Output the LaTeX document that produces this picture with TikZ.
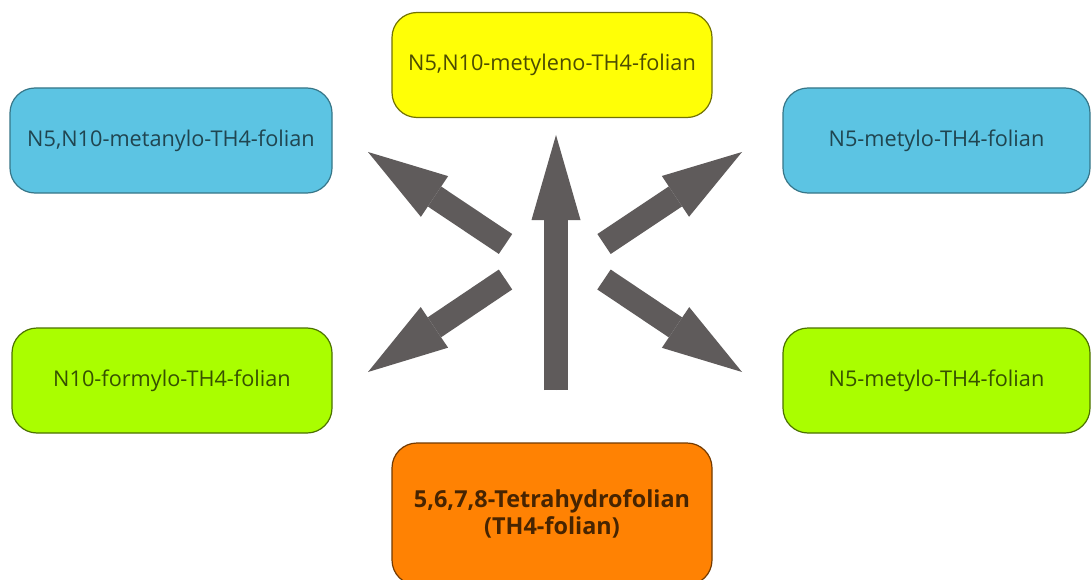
\documentclass[tikz,border=0pt]{standalone}
\usepackage{fontspec}
\setmainfont{Open Sans}
\usetikzlibrary{arrows.meta}

\definecolor{boxblue}{HTML}{5CC4E3}
\definecolor{boxyellow}{HTML}{FFFF06}
\definecolor{boxgreen}{HTML}{AAFE00}
\definecolor{boxorange}{HTML}{FF8203}
\definecolor{arrowgray}{HTML}{5F5B5B}

\tikzset{
  compound/.style={rounded corners=25pt, minimum width=320pt, minimum height=105pt,
    inner sep=0pt, outer sep=0pt, line width=1.2pt, align=center,
    font=\fontsize{21.7}{27.5}\selectfont},
  bluebox/.style={compound, fill=boxblue, draw=black!40!boxblue, text=black!65!boxblue},
  yellowbox/.style={compound, fill=boxyellow, draw=black!55!boxyellow, text=black!70!boxyellow},
  greenbox/.style={compound, fill=boxgreen, draw=black!55!boxgreen, text=black!68!boxgreen},
  orangebox/.style={compound, fill=boxorange, draw=black!55!boxorange, text=black!72!boxorange,
    font=\fontsize{23.4}{27.5}\selectfont\bfseries},
  bigarrow/.style={draw=arrowgray, line width=24pt, line cap=butt,
    -{Triangle[width=49pt, length=80pt, line width=0pt]}, fill=arrowgray},
}

\begin{document}
\begin{tikzpicture}[x=1pt, y=-1pt]
  \useasboundingbox (0,0) rectangle (1091,580);
  \fill[white] (0,0) rectangle (1091,580);

  \begin{scope}
    \clip (0,0) rectangle (1091,580);
    % compounds derived from tetrahydrofolate
    \node[yellowbox] (methylene) at (552,65) {N5,N10-metyleno-TH4-folian};
    \node[bluebox, minimum width=322pt] (methenyl) at (171,140.5) {N5,N10-metanylo-TH4-folian};
    \node[bluebox, minimum width=307pt] (methylA) at (936.5,140.5) {N5-metylo-TH4-folian};
    \node[greenbox] (formyl) at (172,380.5) {N10-formylo-TH4-folian};
    \node[greenbox, minimum width=307pt] (methylB) at (936.5,380.5) {N5-metylo-TH4-folian};
    \node[orangebox, minimum height=142pt] (thf) at (552,514) {5,6,7,8-Tetrahydrofolian\\(TH4-folian)};
  \end{scope}

  % arrow tails and tips
  \coordinate (upT) at (556,390);
  \coordinate (upH) at (556,135);
  \coordinate (ulT) at (505.5,244);
  \coordinate (ulH) at (368,152);
  \coordinate (urT) at (604,244);
  \coordinate (urH) at (742,152);
  \coordinate (llT) at (505.5,279.5);
  \coordinate (llH) at (368,372);
  \coordinate (lrT) at (604,279.5);
  \coordinate (lrH) at (742,372);

  \draw[bigarrow, -{Triangle[width=49pt, length=85pt, line width=0pt]}] (upT) -- (upH);
  \draw[bigarrow] (ulT) -- (ulH);
  \draw[bigarrow] (urT) -- (urH);
  \draw[bigarrow] (llT) -- (llH);
  \draw[bigarrow] (lrT) -- (lrH);
\end{tikzpicture}
\end{document}
